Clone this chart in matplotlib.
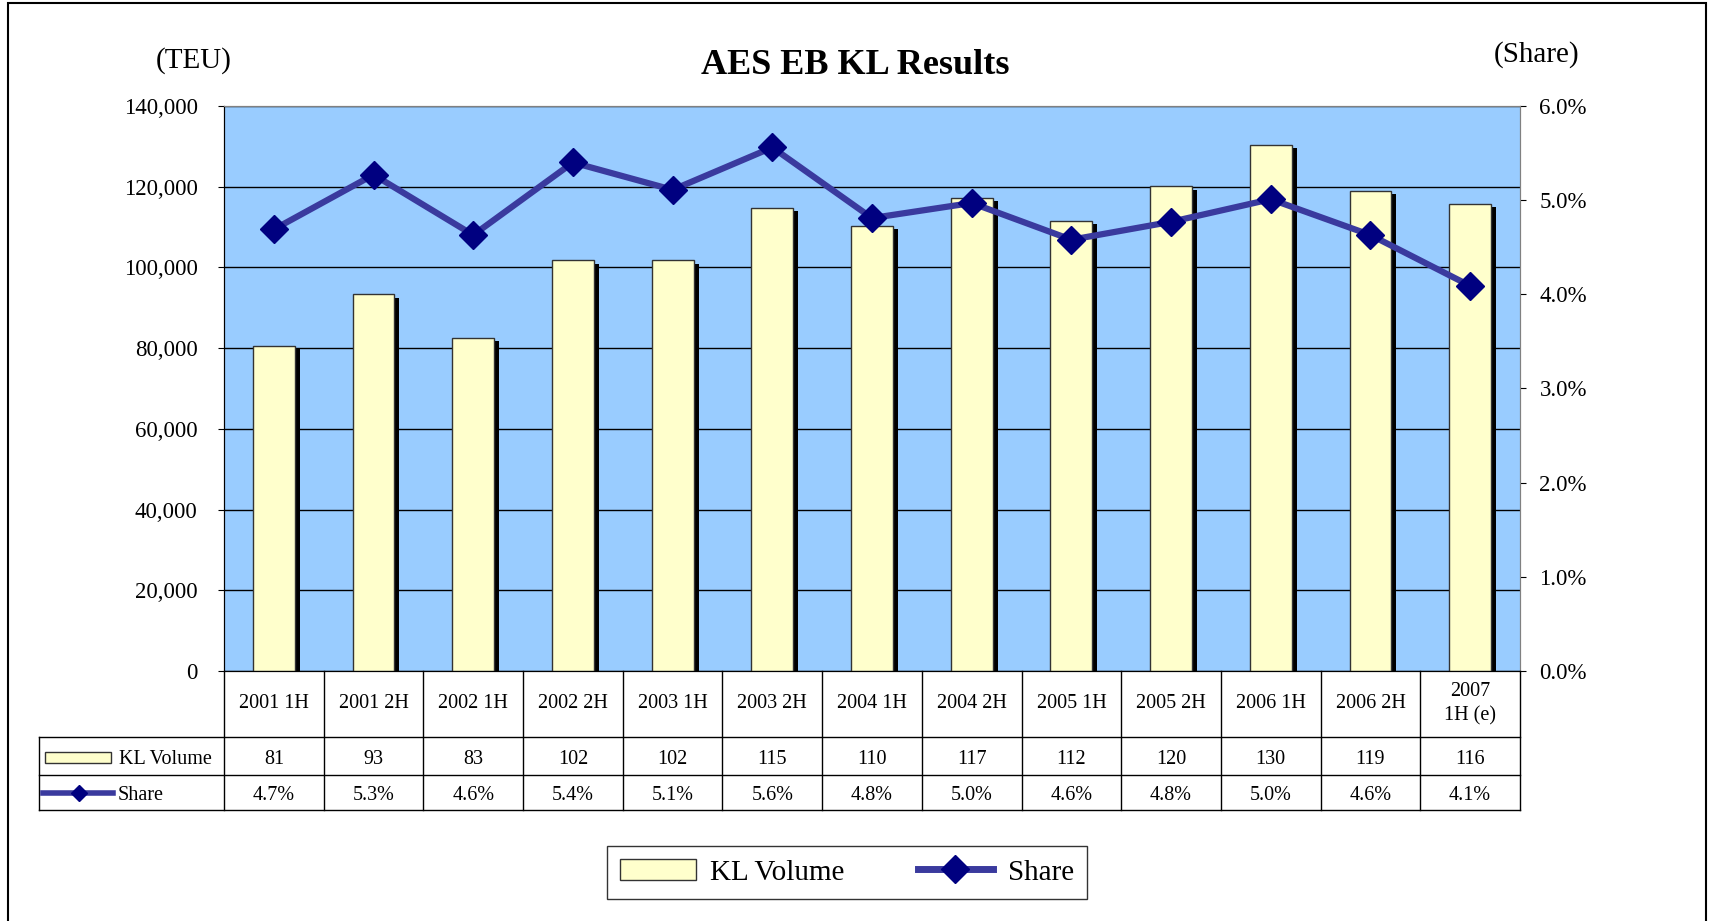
import matplotlib
matplotlib.use("Agg")
import matplotlib.pyplot as plt
from matplotlib.patches import Rectangle, Patch
from matplotlib.lines import Line2D
from matplotlib.ticker import FuncFormatter, MultipleLocator
import numpy as np

# Data (volume in thousand TEU, share in %)
periods = ["2001 1H", "2001 2H", "2002 1H", "2002 2H", "2003 1H", "2003 2H",
           "2004 1H", "2004 2H", "2005 1H", "2005 2H", "2006 1H", "2006 2H",
           "2007\n1H (e)"]
kl_volume = [80.6, 93.3, 82.6, 101.8, 101.8, 114.8, 110.3, 117.3, 111.6,
             120.1, 130.4, 119.0, 115.8]
share = [4.69, 5.27, 4.63, 5.40, 5.11, 5.56, 4.81, 4.97, 4.58, 4.77, 5.01,
         4.63, 4.09]

W, H = 1711, 921
BAR_COLOR = '#FFFFCC'
BG_COLOR = '#99CCFF'
LINE_COLOR = '#3A3A9E'
MARKER_COLOR = '#000080'
FONT_TICK = 16.5
FONT_TABLE = 14.5

plt.rcParams['font.family'] = ['Liberation Serif', 'DejaVu Serif']


# pixel box (x0, y0 top, x1, y1 bottom) -> figure rect
def fbox(x0, y0, x1, y1):
    return [x0 / W, 1 - y1 / H, (x1 - x0) / W, (y1 - y0) / H]


fig = plt.figure(figsize=(W / 100, H / 100), dpi=100)

# main plot
ax = fig.add_axes(fbox(224, 106, 1520, 671))
ax.set_facecolor(BG_COLOR)
x = np.arange(len(periods))
vol_teu = np.array(kl_volume) * 1000
ax.bar(x + 0.05, vol_teu - 900, width=0.42, color='black', zorder=2)
ax.bar(x, vol_teu, width=0.42, color=BAR_COLOR, edgecolor='#333333',
       linewidth=1, zorder=3)
ax.set_xlim(-0.5, len(periods) - 0.5)
ax.set_ylim(0, 140000)
ax.yaxis.set_major_locator(MultipleLocator(20000))
ax.yaxis.set_major_formatter(FuncFormatter(lambda v, p: f"{v:,.0f}"))
ax.yaxis.grid(True, color='black', linewidth=1)
ax.set_axisbelow(True)
ax.set_xticks([])
ax.tick_params(axis='y', labelsize=FONT_TICK, direction='out', length=4, pad=15)
for s in ['top', 'right']:
    ax.spines[s].set_color('#808080')

ax2 = ax.twinx()
ax2.plot(x, share, color=LINE_COLOR, linewidth=4.5, marker='D', markersize=14,
         markerfacecolor=MARKER_COLOR, markeredgecolor=MARKER_COLOR, zorder=5)
ax2.set_ylim(0, 6)
ax2.yaxis.set_major_locator(MultipleLocator(1))
ax2.yaxis.set_major_formatter(FuncFormatter(lambda v, p: f"{v:.1f}%"))
ax2.tick_params(axis='y', labelsize=FONT_TICK, direction='out', length=4, pad=10)
ax2.spines['right'].set_color('#808080')
ax2.spines['top'].set_color('#808080')

# data table under the plot
tab = fig.add_axes(fbox(224, 671, 1520, 810))
tab.set_xlim(-0.5, len(periods) - 0.5)
tab.set_ylim(139, 0)
tab.axis('off')
unit = 1296 / len(periods)
xh = -0.5 - 185 / unit
rows = [0, 66, 104, 139]
for i in range(len(periods) + 1):
    tab.plot([i - 0.5, i - 0.5], [0, 139], color='black', lw=1, clip_on=False)
for r in rows[1:]:
    tab.plot([xh, len(periods) - 0.5], [r, r], color='black', lw=1, clip_on=False)
tab.plot([xh, xh], [rows[1], rows[3]], color='black', lw=1, clip_on=False)

for i, lab in enumerate(periods):
    tab.text(i, 33, lab, ha='center', va='center', fontsize=FONT_TABLE,
             linespacing=1.35)
    tab.text(i, 88, f"{round(kl_volume[i])}", ha='center', va='center',
             fontsize=FONT_TABLE)
    tab.text(i, 125, f"{share[i]:.1f}%", ha='center', va='center',
             fontsize=FONT_TABLE)

# row headers with legend keys
tab.add_patch(Rectangle((xh + 6 / unit, 81), 66 / unit, 11, facecolor=BAR_COLOR,
                        edgecolor='#333333', lw=1, clip_on=False))
tab.text(xh + 80 / unit, 88, "KL Volume", ha='left', va='center',
         fontsize=FONT_TABLE)
tab.plot([xh + 4 / unit, xh + 74 / unit], [122, 122], color=LINE_COLOR,
         lw=4, clip_on=False)
tab.plot([xh + 40 / unit], [122], marker='D', ms=8, color=MARKER_COLOR,
         clip_on=False)
tab.text(xh + 79 / unit, 125, "Share", ha='left', va='center',
         fontsize=FONT_TABLE)

# titles
fig.text(855 / W, 1 - 66 / H, "AES EB KL Results", ha='center', va='center',
         fontsize=26, fontweight='bold')
fig.text(194 / W, 1 - 61 / H, "(TEU)", ha='center', va='center', fontsize=21)
fig.text(1537 / W, 1 - 55 / H, "(Share)", ha='center', va='center', fontsize=21)

# legend
handles = [Patch(facecolor=BAR_COLOR, edgecolor='#333333'),
           Line2D([], [], color=LINE_COLOR, lw=5, marker='D', markersize=14,
                  markerfacecolor=MARKER_COLOR, markeredgecolor=MARKER_COLOR)]
leg = fig.legend(handles, ["KL Volume", "Share"], ncol=2, loc='center',
                 bbox_to_anchor=(847 / W, 1 - 872.5 / H), frameon=True,
                 fancybox=False, edgecolor='black', fontsize=21,
                 handlelength=2.6, handletextpad=0.5, columnspacing=2.5,
                 borderpad=0.45)
leg.get_frame().set_linewidth(1)

# outer frame
fig.patches.append(Rectangle((8 / W, -0.01), (1706 - 8) / W, (921 - 3) / H + 0.01,
                             transform=fig.transFigure, fill=False,
                             edgecolor='black', lw=1.5))

fig.savefig("out.png", dpi=100)
